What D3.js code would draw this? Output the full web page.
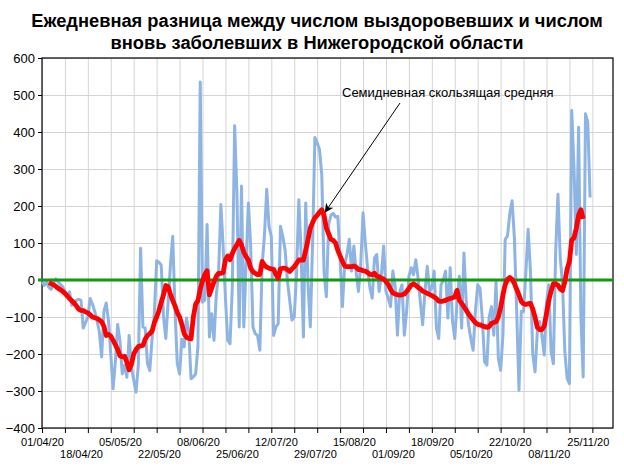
<!DOCTYPE html>
<html>
<head>
<meta charset="utf-8">
<script src="https://cdn.jsdelivr.net/npm/d3@7"></script>
<style>
  body { margin: 0; background: #fff; }
  svg { display: block; font-family: "Liberation Sans", Arial, sans-serif; }
</style>
</head>
<body>
<svg id="chart" width="624" height="468"></svg>
<script>
/* ── DATA ── */
const startDate = "2020-04-01";
const titleLines = [
  "Ежедневная разница между числом выздоровевших и числом",
  "вновь заболевших в Нижегородской области"
];
const noteText = "Семидневная скользящая средняя";
const yTicks = [-400, -300, -200, -100, 0, 100, 200, 300, 400, 500, 600];
const xLabels = ["01/04/20", "18/04/20", "05/05/20", "22/05/20", "08/06/20",
  "25/06/20", "12/07/20", "29/07/20", "15/08/20", "01/09/20", "18/09/20",
  "05/10/20", "22/10/20", "08/11/20", "25/11/20"];

// recovered minus new cases, one value per day from 01/04/20
const daily = [
  -5, -15, -3, -20, -25, -8, 3, -5, -12, -18,
  -30, -45, -32, -68, -58, -55, -52, -55, -130, -115,
  -100, -50, -65, -85, -110, -140, -208, -85, -62, -110,
  -200, -294, -220, -120, -165, -254, -230, -263, -150, -235,
  -270, -303, -230, 86, -127, -130, -226, -245, -160, -90,
  52, 48, 40, -100, -158, -60, 40, 118, -80, -226,
  -254, -160, -181, -103, -140, -267, -262, -254, -180, 535,
  -60, -54, 150, -154, -91, -163, -40, 18, 204, 90,
  -50, -163, -172, -18, 417, 235, -127, 254, -127, 45,
  208, 91, -127, -145, -150, -190, 40, 120, 245, 145,
  118, -150, -127, -118, 145, 118, 82, 0, -54, -108,
  -100, 18, 217, 72, -154, 208, -9, -127, 100, 385,
  371, 353, 285, 20, -45, 150, 175, 180, 170, 172,
  54, -72, 42, 70, 110, 24, 92, 20, -31, 42,
  182, 100, 30, -22, -49, 60, 69, -31, 14, 92,
  -31, -50, -72, 24, -17, -149, -31, -13, -149, -85,
  10, 33, 14, 55, 5, -60, -121, -31, 37, -31,
  -22, 24, -130, -158, -13, 0, 24, -103, 33, -110,
  -158, -60, 10, -130, 73, -60, -121, -158, -190, -85,
  -13, -22, -103, -221, -230, -100, -72, -149, -4, -212,
  -244, -150, 110, 119, 180, 214, 114, -85, -298, -85,
  -85, 20, 137, 24, -200, -248, -140, -112, -150, -203,
  -60, -13, -194, -226, 78, 232, 60, -13, -194, -266,
  -280, 458, 304, 69, 413, -100, -262, 449, 427, 223
];

// seven-day moving average, first value belongs to day 3 (04/04/20)
const avgFrom = 3;
const avg = [
  -7, -10, -13, -17, -22, -26, -31, -36, -43, -50,
  -56, -62, -70, -79, -82, -83, -86, -89, -94, -100,
  -102, -104, -108, -113, -125, -150, -147, -152, -163, -175,
  -188, -205, -208, -206, -222, -243, -228, -200, -188, -180,
  -178, -177, -160, -150, -145, -138, -115, -100, -83, -60,
  -40, -15, -18, -38, -55, -70, -88, -100, -120, -145,
  -155, -158, -159, -100, -65, -56, -25, -2, 15, 25,
  -40, -22, -5, 10, 18, 18, 20, 55, 65, 55,
  72, 85, 95, 107, 95, 75, 63, 54, 32, 22,
  18, 14, 15, 50, 40, 35, 32, 30, 29, 15,
  5, 30, 32, 32, 28, 23, 30, 36, 45, 54,
  54, 54, 80, 109, 140, 155, 168, 175, 183, 190,
  175, 140, 125, 110, 107, 100, 80, 65, 50, 38,
  36, 36, 36, 38, 35, 28, 28, 25, 24, 20,
  15, 14, 18, 10, 9, 5, 2, -4, -12, -25,
  -35, -38, -40, -41, -40, -38, -31, -23, -14, -10,
  -14, -20, -24, -30, -33, -36, -39, -42, -46, -50,
  -57, -58, -57, -55, -52, -50, -48, -46, -28, -55,
  -63, -72, -82, -92, -100, -108, -115, -120, -121, -124,
  -126, -128, -126, -117, -115, -113, -100, -75, -40, -13,
  2, 7, 2, -10, -25, -40, -58, -64, -66, -64,
  -63, -78, -100, -128, -134, -134, -125, -90, -55, -30,
  -10, -10, -14, -24, -28, -5, 30, 50, 108, 114,
  140, 175, 190, 165
];

// the arrow points at the peak of the average
const noteDay = 123.3, noteValue = 182;

/* ── SETUP ── */
const svg = d3.select('#chart');
const L = 42, R = 613, T = 58, B = 428;
const t0 = d3.utcParse('%Y-%m-%d')(startDate);
const parseLbl = d3.utcParse('%d/%m/%y');
const dayAt = i => new Date(t0.getTime() + i * 864e5);

const x = d3.scaleUtc().domain([t0, dayAt(249)]).range([L, R]);
const y = d3.scaleLinear().domain([-400, 600]).range([B, T]);
const gridDays = d3.range(0, 249, 10).map(dayAt);

// grid
svg.append('g')
  .attr('transform', `translate(0,${B})`)
  .call(d3.axisBottom(x).tickValues(gridDays).tickSize(-(B - T)).tickFormat(''))
  .call(g => g.select('.domain').remove())
  .selectAll('line').attr('stroke', '#d4d4d4');

svg.append('g')
  .attr('transform', `translate(${L},0)`)
  .call(d3.axisLeft(y).tickValues(yTicks).tickSize(-(R - L)).tickFormat(''))
  .call(g => g.select('.domain').remove())
  .selectAll('line').attr('stroke', '#d4d4d4');

// frame
svg.append('rect')
  .attr('x', L).attr('y', T).attr('width', R - L).attr('height', B - T)
  .attr('fill', 'none').attr('stroke', '#000').attr('stroke-width', 1.2);

// tick marks
svg.append('g')
  .attr('transform', `translate(0,${B})`)
  .call(d3.axisBottom(x).tickValues(gridDays).tickSize(5).tickFormat('').tickSizeOuter(0))
  .call(g => g.select('.domain').remove())
  .selectAll('line').attr('stroke', '#000');

// x labels in two staggered rows
svg.append('g')
  .attr('transform', `translate(0,${B})`)
  .call(d3.axisBottom(x).tickValues(xLabels.map(parseLbl)).tickSize(0)
    .tickFormat(d3.utcFormat('%d/%m/%y')))
  .call(g => g.select('.domain').remove())
  .selectAll('text')
  .attr('y', (d, i) => i % 2 ? 29.5 : 17.5).attr('dy', 0)
  .attr('fill', '#000').style('font-size', '11px').style('font-family', '"Liberation Sans", Arial');

// y axis
svg.append('g')
  .attr('transform', `translate(${L},0)`)
  .call(d3.axisLeft(y).tickValues(yTicks).tickSize(4).tickPadding(3))
  .call(g => g.select('.domain').remove())
  .call(g => g.selectAll('line').attr('stroke', '#000'))
  .selectAll('text')
  .attr('fill', '#000').style('font-size', '13px').style('font-family', '"Liberation Sans", Arial');

/* ── SERIES ── */
const dailyLine = d3.line().x((d, i) => x(dayAt(i))).y(d => y(d));
svg.append('path').datum(daily)
  .attr('fill', 'none').attr('stroke', '#8db4e2').attr('stroke-width', 3)
  .attr('stroke-linejoin', 'round').attr('d', dailyLine);

svg.append('line')
  .attr('x1', L - 4).attr('x2', R).attr('y1', y(0)).attr('y2', y(0))
  .attr('stroke', '#119a11').attr('stroke-width', 3);

const avgLine = d3.line().x((d, i) => x(dayAt(i + avgFrom))).y(d => y(d));
svg.append('path').datum(avg)
  .attr('fill', 'none').attr('stroke', '#ff0000').attr('stroke-width', 4.8)
  .attr('stroke-linejoin', 'round').attr('d', avgLine);

/* ── ANNOTATION ── */
svg.append('defs').append('marker')
  .attr('id', 'head').attr('viewBox', '0 0 10 10').attr('refX', 10).attr('refY', 5)
  .attr('markerWidth', 9).attr('markerHeight', 9).attr('orient', 'auto')
  .attr('markerUnits', 'userSpaceOnUse')
  .append('path').attr('d', 'M0,0L10,5L0,10L3,5Z').attr('fill', '#000');

svg.append('line')
  .attr('x1', 400).attr('y1', 103)
  .attr('x2', x(dayAt(noteDay))).attr('y2', y(noteValue))
  .attr('stroke', '#000').attr('stroke-width', 1).attr('marker-end', 'url(#head)');

svg.append('text')
  .attr('x', 342).attr('y', 97)
  .style('font-size', '13px').attr('fill', '#000')
  .text(noteText);

/* ── TITLE ── */
svg.append('g').selectAll('text').data(titleLines).join('text')
  .attr('x', 317).attr('y', (d, i) => 26.5 + i * 22)
  .attr('text-anchor', 'middle')
  .style('font-size', '18.3px').style('font-weight', 'bold').attr('fill', '#000')
  .text(d => d);
</script>
</body>
</html>
